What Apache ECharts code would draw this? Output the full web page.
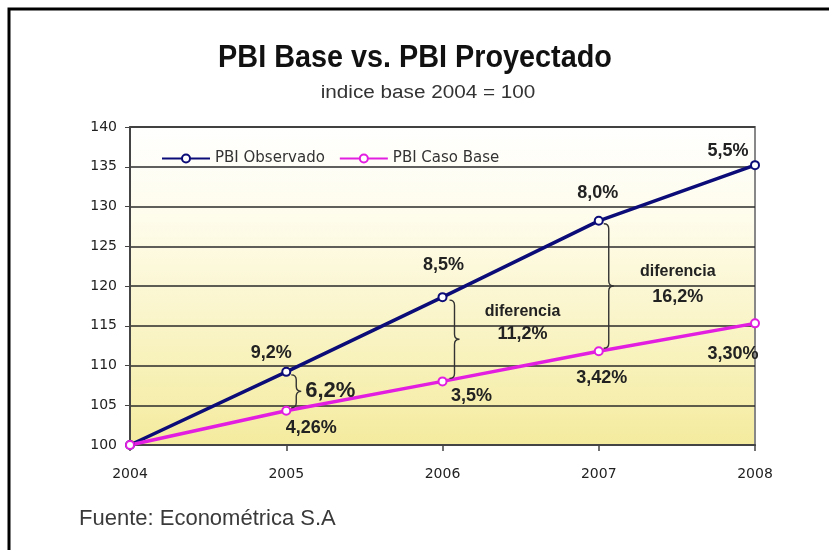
<!DOCTYPE html>
<html><head><meta charset="utf-8">
<script src="https://cdn.jsdelivr.net/npm/echarts@6/dist/echarts.min.js"></script>
<style>html,body{margin:0;padding:0;background:#fff}#c{width:829px;height:550px}</style>
</head><body><div id="c"></div>
<script>
const years = ['2004','2005','2006','2007','2008'];
const observado = [100, 109.2, 118.6, 128.2, 135.2];
const casoBase = [100, 104.3, 108.0, 111.8, 115.3];
const obsLabels = ['', '9,2%', '8,5%', '8,0%', '5,5%'];
const baseLabels = ['', '4,26%', '3,5%', '3,42%', '3,30%'];
const diffYears = ['2005', '2006', '2007'];
const diffLabels = [['6,2%'], ['diferencia', '11,2%'], ['diferencia', '16,2%']];
const yTicks = [100, 105, 110, 115, 120, 125, 130, 135, 140];
const titleText = 'PBI Base vs. PBI Proyectado';
const subtitleText = 'indice base 2004 = 100';
const sourceText = 'Fuente: Econométrica S.A';

const obsOffsets = [[0,0],[-15,-19],[1,-32],[-1,-28],[-27,-14]];
const baseOffsets = [[0,0],[25,17],[29,15],[3,27],[-22,31]];
const FONT = 'Liberation Sans, Arial, sans-serif';
const labelStyle = {fontFamily: FONT, fontWeight: 'bold', fontSize: 18, color: '#222'};

function mkData(vals, labels, offsets) {
  return vals.map((v, i) => ({
    value: v,
    label: labels[i] ? Object.assign({show: true, position: 'inside', offset: offsets[i], formatter: labels[i]}, labelStyle) : {show: false}
  }));
}

const diffData = diffYears.map((y, i) => {
  const idx = years.indexOf(y);
  return [idx, observado[idx], casoBase[idx], i];
});

function renderBrace(params, api) {
  const xi = api.value(0);
  const top = api.coord([xi, api.value(1)]);
  const bot = api.coord([xi, api.value(2)]);
  const k = api.value(3);
  const dx = [10, 12, 10][k];
  const x = top[0] + dx;
  const y1 = top[1] + 3, y2 = bot[1] - 3;
  const ym = (y1 + y2) / 2;
  const r = 5;
  const p = `M${x-r},${y1} Q${x},${y1} ${x},${y1+r} L${x},${ym-r} Q${x},${ym} ${x+r},${ym} Q${x},${ym} ${x},${ym+r} L${x},${y2-r} Q${x},${y2} ${x-r},${y2}`;
  const children = [{type: 'path', shape: {pathData: p}, style: {stroke: '#333', lineWidth: 1.4, fill: null}}];
  const lines = diffLabels[k];
  if (k === 0) {
    children.push({type: 'text', style: {text: lines[0], x: x + 9, y: ym, align: 'left', verticalAlign: 'middle', font: 'bold 22px ' + FONT, fill: '#222'}});
  } else {
    const cx = x + [0, 68, 69][k];
    const d1 = [0, -28, -14][k], d2 = [0, -5, 11][k];
    children.push({type: 'text', style: {text: lines[0], x: cx, y: ym + d1, align: 'center', verticalAlign: 'middle', font: 'bold 16px ' + FONT, fill: '#222'}});
    children.push({type: 'text', style: {text: lines[1], x: cx, y: ym + d2, align: 'center', verticalAlign: 'middle', font: 'bold 18px ' + FONT, fill: '#222'}});
  }
  return {type: 'group', children};
}

const chart = echarts.init(document.getElementById('c'));
chart.setOption({
  backgroundColor: '#fff',
  animation: false,
  graphic: [
    {type: 'rect', shape: {x: 9, y: 9, width: 900, height: 700}, style: {fill: null, stroke: '#000', lineWidth: 3}},
    {type: 'text', x: 415, y: 58, scaleX: 0.9, style: {text: titleText, align: 'center', verticalAlign: 'middle', font: 'bold 32px ' + FONT, fill: '#111'}},
    {type: 'text', x: 428, y: 93, scaleX: 1.15, style: {text: subtitleText, align: 'center', verticalAlign: 'middle', font: '18px ' + FONT, fill: '#333'}},
    {type: 'text', x: 79, y: 519, style: {text: sourceText, align: 'left', verticalAlign: 'middle', font: '22px ' + FONT, fill: '#3a3a3a'}}
  ],
  legend: {
    left: 156, top: 146, itemWidth: 48, itemHeight: 10, itemGap: 14,
    textStyle: {fontFamily: 'DejaVu Sans, sans-serif', fontSize: 15, color: '#333'},
    data: ['PBI Observado', 'PBI Caso Base']
  },
  grid: {
    left: 130, right: 74, top: 127, bottom: 105, show: true,
    borderColor: '#888', borderWidth: 2,
    backgroundColor: {type: 'linear', x: 0, y: 0, x2: 0, y2: 1, colorStops: [
      {offset: 0, color: '#ffffff'}, {offset: 0.3, color: '#fefcea'}, {offset: 1, color: '#f4eb9e'}]}
  },
  xAxis: {
    type: 'category', data: years, boundaryGap: false,
    axisLine: {lineStyle: {color: '#444', width: 2}},
    axisTick: {show: true, length: 6, lineStyle: {color: '#444', width: 1.5}},
    axisLabel: {fontFamily: 'DejaVu Sans, sans-serif', fontSize: 14, color: '#222', margin: 22},
    splitLine: {show: false}
  },
  yAxis: {
    type: 'value', min: 100, max: 140, interval: 5,
    axisLine: {show: true, lineStyle: {color: '#444', width: 2}},
    axisTick: {show: true, length: 5, lineStyle: {color: '#444'}},
    axisLabel: {fontFamily: 'DejaVu Sans, sans-serif', fontSize: 14, color: '#222', margin: 13,
      formatter: v => yTicks.includes(v) ? String(v) : ''},
    splitLine: {show: true, lineStyle: {color: '#2a2a2a', width: 1.5}}
  },
  series: [
    {name: 'PBI Observado', type: 'line', data: mkData(observado, obsLabels, obsOffsets),
      symbol: 'emptyCircle', symbolSize: 8, z: 3,
      lineStyle: {color: '#0c0c78', width: 3.5}, itemStyle: {color: '#0c0c78', borderWidth: 1.5}},
    {name: 'PBI Caso Base', type: 'line', data: mkData(casoBase, baseLabels, baseOffsets),
      symbol: 'emptyCircle', symbolSize: 8, z: 3,
      lineStyle: {color: '#e21ee0', width: 3.5}, itemStyle: {color: '#e21ee0', borderWidth: 1.5}},
    {name: 'diff', type: 'custom', data: diffData, renderItem: renderBrace, z: 4, silent: true,
      encode: {x: 0, y: [1, 2]}}
  ]
});
</script></body></html>
